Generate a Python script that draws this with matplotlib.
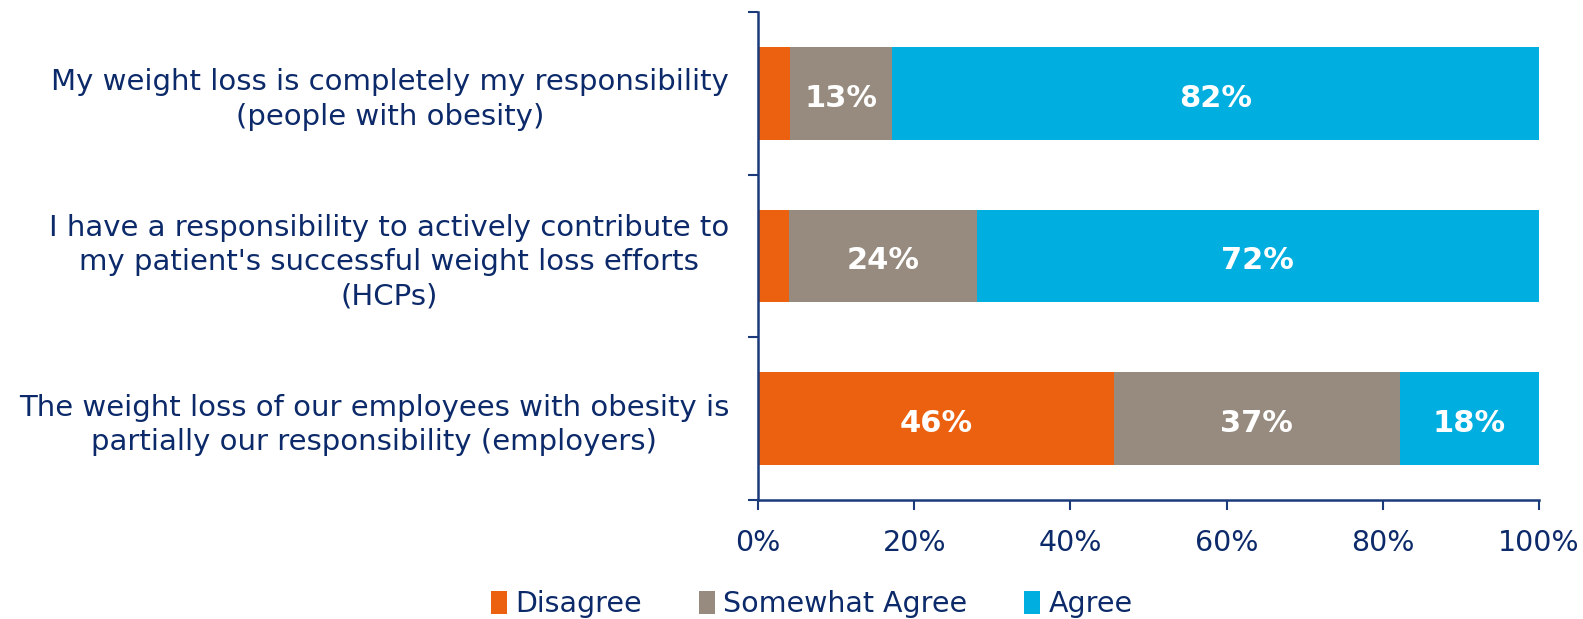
import numpy as np
import matplotlib.pyplot as plt
from matplotlib.patches import Patch

# survey statements, top to bottom
statements = [
    "My weight loss is completely my responsibility\n(people with obesity)",
    "I have a responsibility to actively contribute to\nmy patient's successful weight loss efforts\n(HCPs)",
    "The weight loss of our employees with obesity is\npartially our responsibility (employers)",
]
responses = ["Disagree", "Somewhat Agree", "Agree"]
disagree = [4, 4, 46]
somewhat_agree = [13, 24, 37]
agree = [82, 72, 18]

colors = ["#EC610F", "#968B7E", "#00AEE0"]
navy = "#0C2A6A"
axis_col = "#1B3A7A"

plt.rcParams["font.family"] = ["DejaVu Sans"]

fig = plt.figure(figsize=(15.83, 6.19), dpi=100)
ax = fig.add_axes([0.479, 0.192, 0.493, 0.789])

vals = np.array([disagree, somewhat_agree, agree], dtype=float)
shares = vals / vals.sum(axis=0) * 100  # each row fills 0-100%
ypos = np.arange(len(statements))

left = np.zeros(len(statements))
for i, name in enumerate(responses):
    ax.barh(ypos, shares[i], left=left, height=0.57, color=colors[i],
            edgecolor="none")
    for j in range(len(statements)):
        if vals[i, j] >= 10:
            ax.text(left[j] + shares[i, j] / 2, ypos[j] + 0.03, f"{vals[i, j]:.0f}%",
                    ha="center", va="center", color="white",
                    fontsize=22, fontweight="bold")
    left += shares[i]

ax.set_xlim(0, 100)
ax.set_ylim(len(statements) - 0.5, -0.5)
ax.set_xticks(np.arange(0, 101, 20))
ax.set_xticklabels([f"{v}%" for v in range(0, 101, 20)])

# boundary ticks on the category axis, labels at bar centres
ax.set_yticks(np.arange(-0.5, len(statements)), labels=[])
ax.set_yticks(ypos, labels=statements, minor=True)
ax.tick_params(axis="y", which="major", length=7, width=1.5, color=axis_col,
               direction="out")
ax.tick_params(axis="y", which="minor", length=0, pad=21, labelsize=21,
               labelcolor=navy)
for lab in ax.get_yticklabels(minor=True):
    lab.set_multialignment("center")
    lab.set_linespacing(1.3)
ax.tick_params(axis="x", length=7, width=1.5, color=axis_col, pad=14,
               labelsize=20.5, labelcolor=navy)

for side in ("top", "right"):
    ax.spines[side].set_visible(False)
for side in ("left", "bottom"):
    ax.spines[side].set_color(axis_col)
    ax.spines[side].set_linewidth(1.8)

handles = [Patch(facecolor=c, edgecolor="none") for c in colors]
fig.legend(handles, responses, loc="lower center", bbox_to_anchor=(0.513, -0.04),
           ncol=3, frameon=False, fontsize=20.5, labelcolor=navy,
           handlelength=0.55, handleheight=0.85, handletextpad=0.3,
           columnspacing=2.0)

fig.savefig("out.png", dpi=100)
